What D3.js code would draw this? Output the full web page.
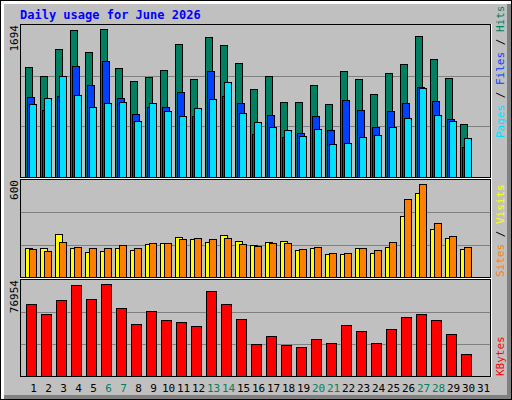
<!DOCTYPE html>
<html><head><meta charset="utf-8">
<script src="https://cdn.jsdelivr.net/npm/d3@7"></script>
<style>body{margin:0;background:#fff}svg{display:block}</style>
</head><body>
<script>
const days = d3.range(1, 32);
const weekendDays = [6, 7, 13, 14, 20, 21, 27, 28];
const hits  = [1223,1122,1423,1635,1390,1646,1211,1067,1111,1189,1479,1089,1557,1468,1267,977,1122,833,833,1022,810,1178,1089,922,1156,1256,1568,1312,1100,587];
const files = [888,743,899,1234,1022,1289,877,699,777,777,944,676,1178,899,821,476,688,442,487,676,520,855,743,554,732,821,1000,844,643,331];
const pages = [810,877,1122,911,777,821,833,621,821,732,676,766,866,1055,710,610,554,520,454,532,364,376,442,465,554,654,989,688,621,431];
const visits = [177,177,265,177,152,158,177,165,202,208,246,233,215,258,221,196,215,221,165,177,140,140,177,146,183,377,521,296,240,171];
const sites  = [171,158,215,183,177,177,196,177,208,208,233,240,233,240,202,190,208,208,171,183,146,146,177,165,215,483,577,333,252,183];
const kbytes = [57590,49520,60820,72930,61630,73740,54360,41440,51940,44670,43060,39830,68080,57590,45480,25300,31750,24490,22870,29330,26100,40630,35790,26100,37400,47090,49520,44670,33370,18030];
const maxHits = 1694, maxVisits = 600, maxK = 76954;
const title = "Daily usage for June 2026";

const svg = d3.select("body").append("svg").attr("width",512).attr("height",400);
svg.append("rect").attr("x",0.5).attr("y",0.5).attr("width",511).attr("height",399).attr("fill","#fff").attr("stroke","#000");
svg.append("rect").attr("x",507).attr("y",4).attr("width",4).attr("height",395).attr("fill","#808080");
svg.append("rect").attr("x",4).attr("y",395).attr("width",507).attr("height",4).attr("fill","#808080");
svg.append("rect").attr("x",4).attr("y",4).attr("width",503).attr("height",391).attr("fill","#c0c0c0");

const font = "'DejaVu Sans Mono', monospace";
svg.append("text").attr("x",20).attr("y",19).text(title)
  .attr("font-family",font).attr("font-weight","bold").attr("font-size",12).attr("fill","#0000ff");

const x = d3.scaleBand().domain(days).range([25, 490]).paddingInner(0);
const panels = [
  {top:25, bottom:177, max:maxHits},
  {top:180, bottom:277, max:maxVisits},
  {top:280, bottom:376, max:maxK}
];
panels.forEach(p => {
  p.y = d3.scaleLinear().domain([0,p.max]).range([p.bottom,p.top]);
  const g = svg.append("g");
  g.append("rect").attr("x",20.5).attr("y",p.top-0.5).attr("width",470).attr("height",p.bottom-p.top+1)
    .attr("fill","#c0c0c0").attr("stroke","#000");
  [1/3,2/3].forEach(f => {
    const yy = Math.round(p.y(p.max*f))+0.5;
    g.append("line").attr("x1",21).attr("x2",490).attr("y1",yy).attr("y2",yy).attr("stroke","#808080");
  });
  svg.append("text").attr("transform",`translate(18,${p.top}) rotate(-90)`).attr("text-anchor","end")
    .attr("font-family",font).attr("font-size",11).attr("fill","#000").text(p.max);
});
svg.append("line").attr("x1",20).attr("x2",491).attr("y1",178.5).attr("y2",178.5).attr("stroke","#fff");
svg.append("line").attr("x1",20).attr("x2",491).attr("y1",278.5).attr("y2",278.5).attr("stroke","#fff");
svg.append("line").attr("x1",491.5).attr("x2",491.5).attr("y1",24).attr("y2",377).attr("stroke","#fff");

function bars(data, panel, off, w, color){
  svg.append("g").selectAll("rect").data(data).join("rect")
    .attr("x",(d,i)=>x(days[i])+off+0.5).attr("y",d=>Math.round(panel.y(d))+0.5)
    .attr("width",w).attr("height",d=>panel.bottom-Math.round(panel.y(d)))
    .attr("fill",color).attr("stroke","#000");
}
bars(hits, panels[0], 0, 7, "#008060");
bars(files, panels[0], 2, 7, "#0040ff");
bars(pages, panels[0], 4, 7, "#00e0ff");
bars(visits, panels[1], 0, 7, "#ffff00");
bars(sites, panels[1], 4, 7, "#ff8000");
bars(kbytes, panels[2], 1, 10, "#ff0000");

svg.append("g").selectAll("text").data(days).join("text")
  .attr("x",d=>x(d)+x.bandwidth()/2+1).attr("y",392).attr("text-anchor","middle")
  .attr("font-family",font).attr("font-size",11)
  .attr("fill",d=>weekendDays.includes(d)?"#008060":"#000").text(d=>d);

function sideLabel(yBottom, parts){
  const t = svg.append("text").attr("transform",`translate(504,${yBottom}) rotate(-90)`)
    .attr("font-family",font).attr("font-size",11);
  parts.forEach(([s,c]) => t.append("tspan").attr("fill",c).text(s));
}
sideLabel(138, [["Pages","#00e0ff"],[" / ","#000"],["Files","#0040ff"],[" / ","#000"],["Hits","#008060"]]);
sideLabel(277, [["Sites","#ff8000"],[" / ","#000"],["Visits","#ffff00"]]);
sideLabel(376, [["KBytes","#ff0000"]]);
</script>
</body></html>
